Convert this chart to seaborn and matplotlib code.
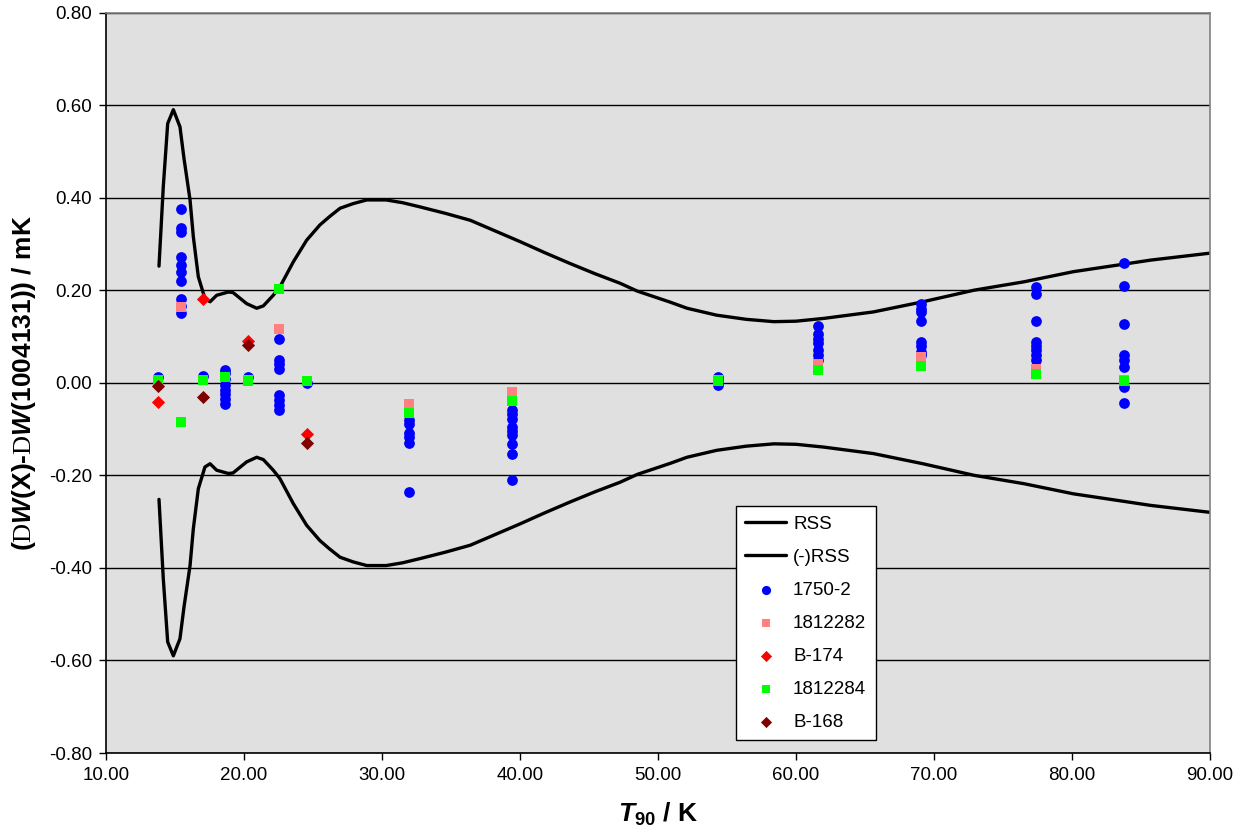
import matplotlib
matplotlib.use('Agg')
import matplotlib.pyplot as plt
import seaborn as sns
import pandas as pd

# Кривая RSS (верхняя ветвь, нижняя - зеркальная)
rss_t = [13.84, 14.0, 14.15, 14.47, 14.88, 15.36, 15.65, 16.09, 16.33, 16.69,
         17.17, 17.54, 18.02, 18.86, 19.2, 20.19, 20.92, 21.4, 22.12, 22.6,
         23.57, 24.54, 25.5, 26.2, 26.96, 27.9, 28.9, 30.3, 31.5, 32.75,
         34.6, 36.4, 38.2, 40.0, 41.8, 43.6, 45.4, 47.25, 48.5, 49.7,
         50.9, 52.1, 54.25, 56.4, 58.4, 60.0, 62.0, 65.6, 69.2, 72.9,
         76.5, 80.1, 83.7, 85.7, 90.0]
rss_val = [0.252, 0.34, 0.423, 0.560, 0.590, 0.553, 0.485, 0.395, 0.315, 0.229,
           0.182, 0.175, 0.189, 0.196, 0.195, 0.171, 0.161, 0.166, 0.189, 0.207,
           0.261, 0.308, 0.341, 0.359, 0.377, 0.387, 0.395, 0.395, 0.389, 0.380,
           0.366, 0.351, 0.328, 0.305, 0.281, 0.258, 0.236, 0.215, 0.198, 0.186,
           0.174, 0.161, 0.146, 0.137, 0.132, 0.133, 0.139, 0.153, 0.175, 0.200,
           0.218, 0.240, 0.256, 0.265, 0.280]

# 1750-2
t_1750 = ([13.80] + [15.4] * 10 + [17.03] + [18.6] * 8 + [20.3] + [22.54] * 8
          + [24.56] + [31.96] * 6 + [39.4] * 9 + [54.36] * 3 + [61.6] * 7
          + [69.06] * 8 + [77.4] * 8 + [83.8] * 8)
d_1750 = ([0.013]
          + [0.375, 0.335, 0.325, 0.272, 0.254, 0.240, 0.220, 0.182, 0.165, 0.150]
          + [0.015]
          + [0.028, 0.022, 0.008, -0.005, -0.015, -0.025, -0.035, -0.045]
          + [0.013]
          + [0.095, 0.049, 0.040, 0.030, -0.027, -0.038, -0.048, -0.058]
          + [-0.001]
          + [-0.080, -0.090, -0.109, -0.118, -0.130, -0.235]
          + [-0.058, -0.068, -0.078, -0.095, -0.105, -0.113, -0.133, -0.154, -0.210]
          + [0.012, 0.006, -0.004]
          + [0.122, 0.105, 0.095, 0.085, 0.071, 0.060, 0.050]
          + [0.171, 0.160, 0.153, 0.133, 0.089, 0.080, 0.066, 0.060]
          + [0.207, 0.191, 0.133, 0.089, 0.080, 0.070, 0.060, 0.049]
          + [0.258, 0.210, 0.126, 0.060, 0.050, 0.035, -0.010, -0.043])

# 1812282
t_282 = [13.80, 15.4, 17.03, 18.6, 20.3, 22.54, 31.96, 39.4, 54.36, 61.6, 69.06, 77.4, 83.8]
d_282 = [0.006, 0.163, 0.006, 0.013, 0.005, 0.116, -0.045, -0.020, 0.006, 0.040, 0.055, 0.030, 0.006]

# B-174
t_b174 = [13.80, 17.03, 20.3, 24.56]
d_b174 = [-0.042, 0.182, 0.090, -0.110]

# 1812284
t_284 = [13.80, 15.4, 17.03, 18.6, 20.3, 22.54, 24.56, 31.96, 39.4, 54.36, 61.6, 69.06, 77.4, 83.8]
d_284 = [0.006, -0.085, 0.005, 0.012, 0.004, 0.202, 0.004, -0.065, -0.040, 0.004, 0.027, 0.036, 0.019, 0.004]

# B-168
t_b168 = [13.80, 17.03, 20.3, 24.56]
d_b168 = [-0.006, -0.030, 0.082, -0.130]

sns.set_theme(style='white')
plt.rcParams['font.family'] = ['Liberation Sans', 'DejaVu Sans']
plt.rcParams['mathtext.fontset'] = 'custom'
plt.rcParams['mathtext.rm'] = 'Liberation Serif'
plt.rcParams['mathtext.it'] = 'Liberation Sans:italic:bold'
plt.rcParams['mathtext.bf'] = 'Liberation Sans:bold'
plt.rcParams['text.color'] = 'black'

fig = plt.figure(figsize=(12.45, 8.39), dpi=100)
ax = fig.add_axes([106 / 1245, 1 - 753 / 839, 1104 / 1245, 740.5 / 839])
ax.set_facecolor('#E0E0E0')
ax.set_axisbelow(True)
ax.yaxis.grid(True, color='black', linewidth=1.0)

rss = pd.DataFrame({'T': rss_t, 'RSS': rss_val})
rss['neg'] = -rss['RSS']
sns.lineplot(data=rss, x='T', y='RSS', ax=ax, color='black', linewidth=2.4,
             estimator=None, label='RSS')
sns.lineplot(data=rss, x='T', y='neg', ax=ax, color='black', linewidth=2.4,
             estimator=None, label='(-)RSS')

sns.scatterplot(x=t_1750, y=d_1750, ax=ax, color='#0000FF', marker='o', s=60,
                edgecolor='#0000FF', linewidth=0, label='1750-2', zorder=3)
sns.scatterplot(x=t_282, y=d_282, ax=ax, color='#FF8080', marker='s', s=48,
                edgecolor='#FF8080', linewidth=0, label='1812282', zorder=3)
sns.scatterplot(x=t_b174, y=d_b174, ax=ax, color='#FF0000', marker='D', s=45,
                edgecolor='#FF0000', linewidth=0, label='B-174', zorder=3)
sns.scatterplot(x=t_284, y=d_284, ax=ax, color='#00FF00', marker='s', s=48,
                edgecolor='#00FF00', linewidth=0, label='1812284', zorder=3)
sns.scatterplot(x=t_b168, y=d_b168, ax=ax, color='#800000', marker='D', s=45,
                edgecolor='#800000', linewidth=0, label='B-168', zorder=3)

ax.set_xlim(10, 90)
ax.set_ylim(-0.8, 0.8)
ax.set_xticks(range(10, 91, 10))
ax.set_yticks([-0.8 + 0.2 * i for i in range(9)])
ax.xaxis.set_major_formatter(matplotlib.ticker.FormatStrFormatter('%.2f'))
ax.yaxis.set_major_formatter(matplotlib.ticker.FormatStrFormatter('%.2f'))
ax.tick_params(axis='both', labelsize=13.5, colors='black', direction='out',
               length=5, width=1, bottom=True, left=True, pad=5)

for side in ['left', 'bottom']:
    ax.spines[side].set_color('black')
    ax.spines[side].set_linewidth(1.2)
for side in ['top', 'right']:
    ax.spines[side].set_color('#808080')
    ax.spines[side].set_linewidth(1.2)

ax.set_xlabel(r'$T_{\mathbf{90}}$ / K', fontsize=19, fontweight='bold',
              color='black', labelpad=12)
ax.set_ylabel('(' + r'$\mathrm{D}W$' + '(X)-' + r'$\mathrm{D}W$' + '(1004131)) / mK',
              fontsize=19, fontweight='bold', color='black', labelpad=8)

leg = ax.legend(loc='upper left', bbox_to_anchor=(0.562, 0.346), fontsize=13.5,
                frameon=True, fancybox=False, framealpha=1, edgecolor='black',
                labelspacing=0.85, handlelength=2.2, handletextpad=0.35,
                borderpad=0.5, markerscale=0.85, labelcolor='black')
leg.get_frame().set_linewidth(1.0)
leg.get_frame().set_facecolor('white')

plt.savefig('out.png', dpi=100)
